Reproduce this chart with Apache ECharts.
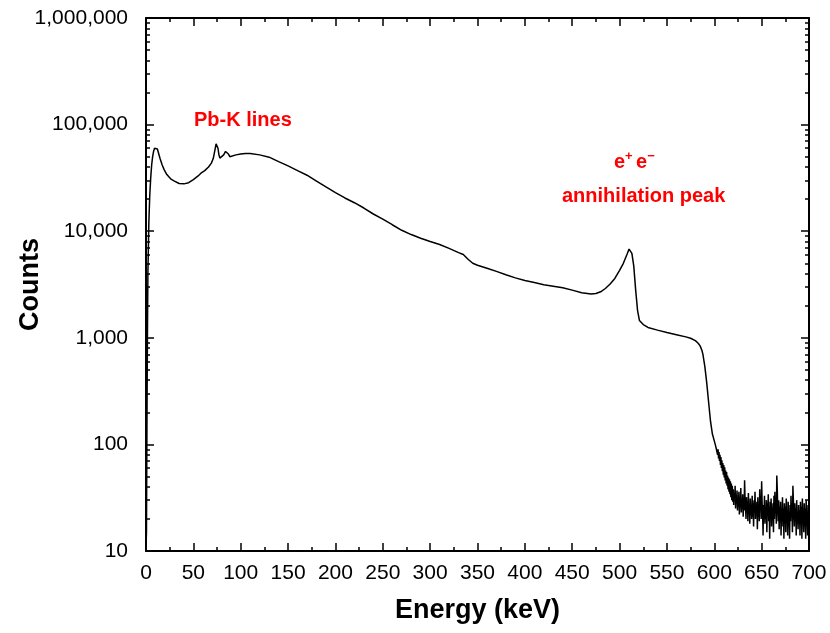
<!DOCTYPE html>
<html>
<head>
<meta charset="utf-8">
<script src="https://cdn.jsdelivr.net/npm/echarts@6/dist/echarts.min.js"></script>
<style>
  html, body { margin: 0; padding: 0; background: #fff; }
  #main { width: 830px; height: 633px; }
</style>
</head>
<body>
<div id="main"></div>
<script>
// energy (keV) and counts
var energy = [
  0, 0.5, 1, 1.5, 2, 3, 4, 5, 6, 7, 8, 9, 10, 11, 12, 13, 14, 15, 17, 19, 22, 26, 30, 35, 40, 45, 50, 55, 58, 62, 66, 69, 71,
  72.5, 74, 75, 76, 77, 78, 80, 82, 84, 85.5, 87, 88.5, 90, 95, 100, 105, 110, 120, 130, 140, 150, 160, 170, 180, 190,
  200, 210, 220, 230, 240, 250, 260, 270, 280, 290, 300, 310, 320, 330, 335, 337, 340, 345, 350, 360, 370, 380, 390,
  400, 410, 420, 430, 440, 450, 460, 470, 475, 480, 485, 490, 495, 500, 504, 508, 510, 511, 512, 513, 515, 517, 519,
  521, 525, 530, 540, 550, 560, 570, 575, 580, 583, 585, 587, 588, 590, 592, 594, 596, 598, 600, 601, 602
];
var counts = [
  11, 15, 150, 1000, 4000, 12000, 22000, 32000, 42000, 50000, 56000, 60000, 62000, 61500, 59000, 55000, 51000, 47500, 42000, 38000, 34000, 31000, 29500, 28000, 27800, 28500, 30500, 33000, 35000, 37000, 40000, 43500, 48000,
  56000, 66000, 67000, 60000, 52000, 48500, 49500, 52000, 56000, 57500, 53000, 50000, 50500, 52000, 53000, 53500, 53500, 52000, 49500, 45000, 41000, 37000, 33500, 29500, 26000,
  23000, 20500, 18500, 16500, 14500, 13000, 11500, 10200, 9300, 8600, 8000, 7500, 6900, 6300, 6050, 5900, 5450, 5000, 4800, 4500, 4200, 3900, 3650,
  3450, 3300, 3150, 3050, 2950, 2800, 2650, 2580, 2600, 2700, 2900, 3200, 3600, 4300, 5000, 6100, 6800, 7000, 6700, 6200, 4700, 2800, 1800,
  1450, 1330, 1250, 1180, 1120, 1070, 1020, 990, 940, 890, 840, 760, 700, 540, 380, 250, 165, 125, 108, 100, 92
];
// noisy tail above the Compton edge, 0.5 keV channels
var tailEnergy = [
  603, 603.5, 604, 604.5, 605, 605.5, 606, 606.5, 607, 607.5, 608, 608.5, 609, 609.5, 610, 610.5, 611, 611.5, 612, 612.5,
  613, 613.5, 614, 614.5, 615, 615.5, 616, 616.5, 617, 617.5, 618, 618.5, 619, 619.5,
  620, 620.5, 621, 621.5, 622, 622.5, 623, 623.5, 624, 624.5, 625, 625.5, 626, 626.5, 627, 627.5, 628, 628.5, 629, 629.5,
  630, 630.5, 631, 631.5, 632, 632.5, 633, 633.5, 634, 634.5, 635, 635.5, 636, 636.5, 637, 637.5, 638, 638.5, 639, 639.5,
  640, 640.5, 641, 641.5, 642, 642.5, 643, 643.5, 644, 644.5, 645, 645.5, 646, 646.5, 647, 647.5, 648, 648.5, 649, 649.5,
  650, 650.5, 651, 651.5, 652, 652.5, 653, 653.5, 654, 654.5, 655, 655.5, 656, 656.5, 657, 657.5, 658, 658.5, 659, 659.5,
  660, 660.5, 661, 661.5, 662, 662.5, 663, 663.5, 664, 664.5, 665, 665.5, 666, 666.5, 667, 667.5, 668, 668.5, 669, 669.5,
  670, 670.5, 671, 671.5, 672, 672.5, 673, 673.5, 674, 674.5, 675, 675.5, 676, 676.5, 677, 677.5, 678, 678.5, 679, 679.5,
  680, 680.5, 681, 681.5, 682, 682.5, 683, 683.5, 684, 684.5, 685, 685.5, 686, 686.5, 687, 687.5, 688, 688.5, 689, 689.5,
  690, 690.5, 691, 691.5, 692, 692.5, 693, 693.5, 694, 694.5, 695, 695.5, 696, 696.5, 697, 697.5, 698, 698.5, 699, 699.5,
  700
];
var tailCounts = [
  95, 80, 90, 74, 85, 70, 80, 64, 76, 60, 71, 56, 67, 52, 64, 49, 61, 46, 57, 43,
  55, 41, 51, 38, 49, 36, 47, 34, 45, 32, 43, 30, 41, 29,
  38, 27, 35, 30, 41, 25, 33, 28, 37, 24, 31, 27, 36, 22, 30, 26, 39, 23, 29, 25,
  34, 21, 28, 24, 46, 30, 26, 20, 32, 25, 29, 19, 35, 23, 27, 18, 31, 22, 26, 20,
  33, 21, 28, 17, 30, 24, 36, 20, 27, 22, 29, 16, 32, 21, 26, 19, 38, 25, 30, 20,
  45, 28, 24, 14, 27, 21, 33, 18, 25, 20, 30, 15, 28, 22, 34, 19, 26, 13, 29, 21,
  31, 17, 25, 21, 28, 15, 33, 20, 36, 24, 27, 18, 51, 38, 25, 19, 30, 16, 26, 21,
  29, 14, 24, 20, 32, 17, 25, 13, 28, 21, 26, 15, 31, 19, 24, 14, 29, 20, 23, 13,
  27, 19, 33, 22, 26, 15, 41, 30, 24, 17, 28, 21, 25, 14, 30, 18, 23, 16, 27, 20,
  24, 14, 29, 18, 26, 13, 31, 20, 24, 15, 28, 17, 25, 13, 30, 19, 23, 14, 27, 18,
  24
];
var yMinorTicks = [20, 30, 40, 50, 60, 70, 80, 90, 200, 300, 400, 500, 600, 700, 800, 900,
  2000, 3000, 4000, 5000, 6000, 7000, 8000, 9000, 20000, 30000, 40000, 50000, 60000, 70000, 80000, 90000,
  200000, 300000, 400000, 500000, 600000, 700000, 800000, 900000];

var spectrum = energy.map(function (e, i) { return [e, counts[i]]; })
  .concat(tailEnergy.map(function (e, i) { return [e, tailCounts[i]]; }));

var chart = echarts.init(document.getElementById('main'));
var font = 'Liberation Sans, Arial, sans-serif';

function yAxis(pos, showLabel, minor) {
  var ax = {
    type: 'log', logBase: 10, min: 10, max: 1000000, position: pos,
    axisLine: { show: !minor, onZero: false, lineStyle: { color: '#000', width: 2 } },
    axisTick: { show: true, inside: true, length: minor ? 4 : 8, lineStyle: { color: '#000', width: 1.5 } },
    axisLabel: { show: showLabel, color: '#000', fontSize: 21, fontFamily: font, margin: 18,
      formatter: function (v) { return Math.round(v).toLocaleString('en-US'); } },
    splitLine: { show: false }
  };
  if (showLabel) {
    ax.name = 'Counts';
    ax.nameLocation = 'middle';
    ax.nameGap = 102;
    ax.nameMoveOverlap = false;
    ax.nameTextStyle = { fontSize: 27, fontWeight: 'bold', color: '#000', fontFamily: font };
  }
  if (minor) ax.axisTick.customValues = yMinorTicks;
  return ax;
}

function xAxis(pos, showLabel) {
  var ax = {
    type: 'value', min: 0, max: 700, interval: 50, position: pos,
    axisLine: { onZero: false, lineStyle: { color: '#000', width: 2 } },
    axisTick: { inside: true, length: 8, lineStyle: { color: '#000', width: 1.5 } },
    minorTick: { show: true, splitNumber: 2, length: 4, lineStyle: { color: '#000', width: 1.5 } },
    axisLabel: { show: showLabel, color: '#000', fontSize: 21, fontFamily: font, margin: 12 },
    splitLine: { show: false }
  };
  if (showLabel) {
    ax.name = 'Energy (keV)';
    ax.nameLocation = 'middle';
    ax.nameGap = 46;
    ax.nameMoveOverlap = false;
    ax.nameTextStyle = { fontSize: 27, fontWeight: 'bold', color: '#000', fontFamily: font };
  }
  return ax;
}

var option = {
  animation: false,
  backgroundColor: '#fff',
  grid: { left: 146, right: 21, top: 18, bottom: 82, containLabel: false, outerBoundsMode: 'none' },
  xAxis: [xAxis('bottom', true), xAxis('top', false)],
  yAxis: [yAxis('left', true, false), yAxis('right', false, false), yAxis('left', false, true), yAxis('right', false, true)],
  graphic: [
    { type: 'text', left: 194, top: 110,
      style: { text: 'Pb-K lines', fill: '#ff0000', font: 'bold 20px ' + font } },
    { type: 'text', left: 614, top: 150,
      style: { text: '{b|e}{s|+} {b|e}{s|\u2212}', fill: '#ff0000',
        rich: { b: { fontSize: 20, fontWeight: 'bold', fill: '#ff0000', fontFamily: font, verticalAlign: 'bottom' },
                s: { fontSize: 13, fontWeight: 'bold', fill: '#ff0000', fontFamily: font, verticalAlign: 'top', padding: [0, 0, 9, 0] } } } },
    { type: 'text', left: 562, top: 186,
      style: { text: 'annihilation peak', fill: '#ff0000', font: 'bold 20px ' + font } }
  ],
  series: [{
    type: 'line', data: spectrum, xAxisIndex: 0, yAxisIndex: 0,
    showSymbol: false, symbol: 'none',
    lineStyle: { color: '#000', width: 1.5 }
  }]
};
chart.setOption(option);
</script>
</body>
</html>
